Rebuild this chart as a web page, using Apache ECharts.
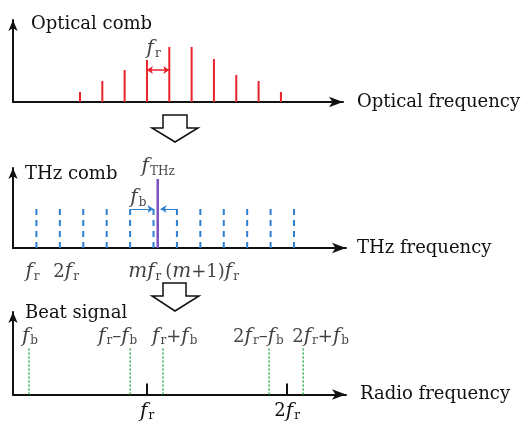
<!DOCTYPE html>
<html>
<head>
<meta charset="utf-8">
<script src="https://cdn.jsdelivr.net/npm/echarts@6/dist/echarts.min.js"></script>
<style>
html, body { margin: 0; padding: 0; background: #fff; }
#chart { width: 522px; height: 422px; }
</style>
</head>
<body>
<div id="chart"></div>
<script>
// optical comb (mode number, relative amplitude)
var opticalModes = [1, 2, 3, 4, 5, 6, 7, 8, 9, 10];
var opticalAmps = [1.0, 2.1, 3.2, 4.2, 5.5, 5.5, 4.3, 2.7, 2.1, 1.0];
var frArrow = [4, 5, 3.2];          // from mode, to mode, height
var frLabel = [4.3, 5.3, 'f_r'];

// THz comb
var thzModes = [1, 2, 3, 4, 5, 6, 7, 8, 9, 10, 11, 12];
var thzAmp = 4.3;
var thzLine = [6.18, 6.9];          // f_THz position, height
var thzLabels = ['f_THz', 'f_b'];
var thzLabelPos = [[6.2, 8.1], [5.35, 5.0]];
var thzAxisLabels = ['f_r', '2f_r', 'mf_r', '(m+1)f_r'];
var thzAxisLabelPos = [0.53, 1.72, 4.92, 6.5];
var fbArrowY = 3.9;

// beat signal
var beatNames = ['f_b', 'f_r-f_b', 'f_r+f_b', '2f_r-f_b', '2f_r+f_b'];
var beatFreqs = [0.157, 0.88, 1.114, 1.871, 2.114];
var beatLabelPos = [0.107, 0.65, 1.036, 1.614, 2.036];
var beatAmp = 4.7;
var beatLabelY = 5.8;
var rfTicks = [1, 2];
var rfTickLabels = ['f_r', '2f_r'];

var SERIF = '"DejaVu Serif", "Liberation Serif", serif';
var rich = {
    n: { fontFamily: SERIF, fontSize: 18, color: '#111', lineHeight: 22 },
    i: { fontFamily: SERIF, fontStyle: 'italic', fontSize: 20, color: '#111', lineHeight: 22 },
    s: { fontFamily: SERIF, fontSize: 12, color: '#111', lineHeight: 22, padding: [9, 0, 0, 1] }
};

// 'f_r+f_b' -> rich text with italic f/m and subscripts
function toRich(str) {
    var out = '';
    for (var i = 0; i < str.length; i++) {
        var c = str[i];
        if (c === '_') {
            var sub = '';
            i++;
            while (i < str.length && /[A-Za-z]/.test(str[i])) { sub += str[i]; i++; }
            i--;
            out += '{s|' + sub + '}';
        } else if (c === 'f' || c === 'm') {
            out += '{i|' + c + '}';
        } else if (c === '-') {
            out += '{n|\u2013}';
        } else {
            out += '{n|' + c + '}';
        }
    }
    return out;
}

function stickSeries(gi, data, color, width, dash) {
    return {
        type: 'custom',
        xAxisIndex: gi,
        yAxisIndex: gi,
        clip: false,
        data: data,
        renderItem: function (params, api) {
            var p0 = api.coord([api.value(0), 0]);
            var p1 = api.coord([api.value(0), api.value(1)]);
            return {
                type: 'line',
                shape: { x1: p0[0], y1: p0[1], x2: p1[0], y2: p1[1] },
                style: { stroke: color, lineWidth: width, lineDash: dash || null }
            };
        }
    };
}

function textSeries(gi, data, align) {
    return {
        type: 'scatter',
        xAxisIndex: gi,
        yAxisIndex: gi,
        clip: false,
        symbolSize: 0,
        silent: true,
        data: data,
        label: {
            show: true,
            position: 'inside',
            align: align || 'center',
            verticalAlign: 'middle',
            color: '#111',
            textBorderWidth: 0,
            formatter: function (p) { return toRich(p.data[2]); },
            rich: rich
        }
    };
}

var axisLineStyle = { color: '#111', width: 2 };
var nameStyle = { fontFamily: SERIF, fontSize: 18, color: '#111', verticalAlign: 'middle', align: 'left' };

function xAxis(gi, min, max, name, gap) {
    return {
        type: 'value', gridIndex: gi, min: min, max: max,
        name: name, nameLocation: 'end', nameGap: gap,
        nameTextStyle: nameStyle,
        axisLine: { show: true, onZero: false, symbol: ['none', 'arrow'], symbolSize: [8, 14], lineStyle: axisLineStyle },
        axisTick: { show: false }, axisLabel: { show: false }, splitLine: { show: false }
    };
}

function yAxis(gi, max, name, gap, padLeft) {
    return {
        type: 'value', gridIndex: gi, min: 0, max: max,
        name: name, nameLocation: 'end', nameGap: gap,
        nameTextStyle: Object.assign({ padding: [0, 0, 0, padLeft] }, nameStyle),
        axisLine: { show: true, onZero: false, symbol: ['none', 'arrow'], symbolSize: [7, 11], lineStyle: axisLineStyle },
        axisTick: { show: false }, axisLabel: { show: false }, splitLine: { show: false }
    };
}

var myChart = echarts.init(document.getElementById('chart'));

var rfAxis = xAxis(2, 0.043, 2.42, 'Radio frequency', 14);
rfAxis.axisTick = {
    show: true, inside: true, length: 11, customValues: rfTicks,
    lineStyle: { color: '#111', width: 2 }
};
rfAxis.axisLabel = {
    show: true, customValues: rfTicks, margin: 6,
    formatter: function (v) { return toRich(rfTickLabels[rfTicks.indexOf(v)]); },
    rich: rich
};

var option = {
    animation: false,
    grid: [
        { left: 13, top: 20, width: 330, height: 82 },
        { left: 13, top: 168, width: 333, height: 80 },
        { left: 13, top: 312, width: 333, height: 83 }
    ],
    xAxis: [
        xAxis(0, -2, 12.78, 'Optical frequency', 14),
        xAxis(1, 0, 14.22, 'THz frequency', 11),
        rfAxis
    ],
    yAxis: [
        yAxis(0, 8.2, 'Optical comb', -4, 18),
        yAxis(1, 8.0, 'THz comb', -6, 12),
        yAxis(2, 8.3, 'Beat signal', -1, 12)
    ],
    graphic: [
        {
            type: 'polygon',
            shape: { points: [[163, 115], [187, 115], [187, 128], [198, 128], [175, 142], [152, 128], [163, 128]] },
            style: { fill: '#fff', stroke: '#111', lineWidth: 1.5 }
        },
        {
            type: 'polygon',
            shape: { points: [[163, 283], [186, 283], [186, 296], [199, 296], [175, 311], [152, 296], [163, 296]] },
            style: { fill: '#fff', stroke: '#111', lineWidth: 1.5 }
        }
    ],
    series: [
        stickSeries(0, opticalModes.map(function (m, i) { return [m, opticalAmps[i]]; }), '#e8232a', 2),
        {
            type: 'lines', coordinateSystem: 'cartesian2d', xAxisIndex: 0, yAxisIndex: 0,
            symbol: ['arrow', 'arrow'], symbolSize: 6,
            lineStyle: { color: '#e8232a', width: 1.5, opacity: 1 },
            data: [{ coords: [[frArrow[0], frArrow[2]], [frArrow[1], frArrow[2]]] }]
        },
        textSeries(0, [frLabel]),

        stickSeries(1, thzModes.map(function (m) { return [m, thzAmp]; }), '#2f7fd0', 2, [6, 5]),
        stickSeries(1, [thzLine], '#7b52c0', 2.5),
        {
            type: 'lines', coordinateSystem: 'cartesian2d', xAxisIndex: 1, yAxisIndex: 1,
            symbol: ['none', 'arrow'], symbolSize: 6,
            lineStyle: { color: '#2f7fd0', width: 1.2, opacity: 1 },
            data: [
                { coords: [[5, fbArrowY], [6, fbArrowY]] },
                { coords: [[7, fbArrowY], [6.3, fbArrowY]] }
            ]
        },
        textSeries(1, thzLabels.map(function (t, i) { return [thzLabelPos[i][0], thzLabelPos[i][1], t]; })),
        textSeries(1, thzAxisLabels.map(function (t, i) { return [thzAxisLabelPos[i], -2.4, t]; }), 'left'),

        stickSeries(2, beatFreqs.map(function (f) { return [f, beatAmp]; }), '#2fae4e', 1.5, [2, 2]),
        textSeries(2, beatNames.map(function (t, i) { return [beatLabelPos[i], beatLabelY, t]; }), 'left')
    ]
};

myChart.setOption(option);
</script>
</body>
</html>
